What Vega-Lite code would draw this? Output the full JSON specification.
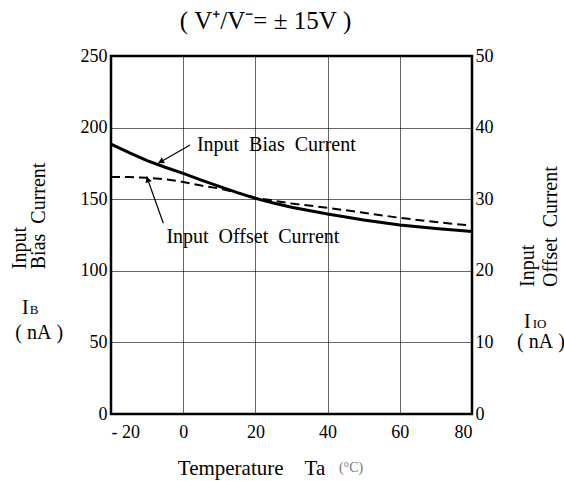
{
  "$schema": "https://vega.github.io/schema/vega-lite/v6.json",
  "width": 361,
  "height": 358,
  "autosize": {"type": "none"},
  "padding": {"left": 111, "top": 56, "right": 92, "bottom": 67},
  "background": "white",
  "title": {
    "text": "(\u00a0V⁺/V⁻= ±\u00a015V\u00a0)",
    "font": "Liberation Serif",
    "fontSize": 25,
    "fontWeight": "normal",
    "color": "black",
    "frame": "group",
    "anchor": "middle",
    "dx": -26,
    "dy": 32,
    "baseline": "alphabetic",
    "offset": 25
  },
  "config": {
    "view": {"stroke": "black", "strokeWidth": 2.5},
    "axis": {
      "labelFont": "Liberation Serif",
      "labelFontSize": 18,
      "labelColor": "black",
      "titleFont": "Liberation Serif",
      "titleFontSize": 21,
      "titleFontWeight": "normal",
      "titleColor": "black",
      "domain": false,
      "ticks": false,
      "tickSize": 0,
      "gridColor": "black",
      "gridOpacity": 0.6,
      "gridWidth": 1
    },
    "text": {"font": "Liberation Serif", "color": "black"}
  },
  "datasets": {
    "bias": [
      {"t": -20, "v": 188.5}, {"t": -15, "v": 182.5}, {"t": -10, "v": 177},
      {"t": -5, "v": 172.3}, {"t": 0, "v": 168}, {"t": 5, "v": 163.3},
      {"t": 10, "v": 159}, {"t": 15, "v": 154.6}, {"t": 20, "v": 150.6},
      {"t": 25, "v": 147.3}, {"t": 30, "v": 144.4}, {"t": 40, "v": 139.6},
      {"t": 50, "v": 135.5}, {"t": 60, "v": 132}, {"t": 70, "v": 129.5},
      {"t": 80, "v": 127.5}
    ],
    "offset": [
      {"t": -20, "iio": 33.1}, {"t": -15, "iio": 33.1}, {"t": -10, "iio": 33.0},
      {"t": -5, "iio": 32.8}, {"t": 0, "iio": 32.4}, {"t": 5, "iio": 31.9},
      {"t": 10, "iio": 31.5}, {"t": 15, "iio": 30.9}, {"t": 20, "iio": 30.2},
      {"t": 25, "iio": 29.8}, {"t": 30, "iio": 29.4}, {"t": 40, "iio": 28.8},
      {"t": 50, "iio": 28.1}, {"t": 60, "iio": 27.4}, {"t": 70, "iio": 26.8},
      {"t": 80, "iio": 26.3}
    ],
    "arrows": [
      {"t": 1.9, "v": 187.8, "t2": -6.9, "v2": 175.1},
      {"t": -5.5, "v": 133.2, "t2": -10.1, "v2": 165.7}
    ],
    "labels": [
      {"label": "Input\u00a0\u00a0Bias\u00a0\u00a0Current", "t": 25.8, "v": 187.8},
      {"label": "Input\u00a0\u00a0Offset\u00a0\u00a0Current", "t": 19.3, "v": 123.8},
      {"label": "I", "t": -43.7, "v": 74},
      {"label": "(\u00a0nA\u00a0)", "t": -39.9, "v": 56.6},
      {"label": "I", "t": 95.3, "v": 64.2},
      {"label": "(\u00a0nA\u00a0)", "t": 99.1, "v": 50.3}
    ],
    "vlabels": [
      {"label": "Input", "t": -45.2, "v": 101.1},
      {"label": "Bias\u00a0\u00a0Current", "t": -39.9, "v": 101.1},
      {"label": "Input", "t": 95.5, "v": 88.7},
      {"label": "Offset\u00a0\u00a0Current", "t": 101.9, "v": 88.7}
    ],
    "subs": [
      {"label": "B", "t": -41.3, "v": 72.8},
      {"label": "IO", "t": 98.7, "v": 63}
    ],
    "unit": [
      {"label": "(°C)", "t": 46.5, "v": -37.7}
    ]
  },
  "encoding": {
    "x": {
      "field": "t", "type": "quantitative",
      "scale": {"domain": [-20, 80], "nice": false, "zero": false},
      "axis": {
        "values": [-20, 0, 20, 40, 60, 80],
        "grid": true,
        "labelPadding": 9,
        "labelExpr": "datum.value < 0 ? '-\u00a0' + abs(datum.value) : datum.label",
        "title": "Temperature\u00a0\u00a0\u00a0\u00a0Ta",
        "titleX": 140,
        "titleY": 54,
        "titleBaseline": "middle",
        "titleAlign": "center"
      }
    }
  },
  "layer": [
    {
      "encoding": {
        "y": {
          "field": "v", "type": "quantitative",
          "scale": {"domain": [0, 250], "nice": false},
          "axis": {
            "values": [0, 50, 100, 150, 200, 250],
            "grid": true,
            "labelPadding": 4,
            "title": null,
            "orient": "left"
          }
        }
      },
      "layer": [
        {
          "data": {"name": "bias"},
          "mark": {"type": "line", "color": "black", "strokeWidth": 3}
        },
        {
          "data": {"name": "arrows"},
          "mark": {"type": "rule", "color": "black", "strokeWidth": 1.2},
          "encoding": {
            "x2": {"field": "t2"},
            "y2": {"field": "v2"}
          }
        },
        {
          "data": {"values": [{"t": -6.2, "v": 176.2}]},
          "mark": {"type": "point", "shape": "triangle-up", "filled": true, "color": "black", "size": 45, "angle": 240.7, "opacity": 1}
        },
        {
          "data": {"values": [{"t": -9.85, "v": 163.8}]},
          "mark": {"type": "point", "shape": "triangle-up", "filled": true, "color": "black", "size": 45, "angle": 340.4, "opacity": 1}
        },
        {
          "data": {"name": "labels"},
          "mark": {"type": "text", "fontSize": 20, "align": "center", "baseline": "middle"},
          "encoding": {"text": {"field": "label"}}
        },
        {
          "data": {"name": "vlabels"},
          "mark": {"type": "text", "fontSize": 20, "align": "left", "baseline": "middle", "angle": 270},
          "encoding": {"text": {"field": "label"}}
        },
        {
          "data": {"name": "subs"},
          "mark": {"type": "text", "fontSize": 13, "align": "center", "baseline": "middle"},
          "encoding": {"text": {"field": "label"}}
        },
        {
          "data": {"name": "unit"},
          "mark": {"type": "text", "fontSize": 14, "align": "center", "baseline": "middle", "color": "#777777"},
          "encoding": {"text": {"field": "label"}}
        }
      ]
    },
    {
      "data": {"name": "offset"},
      "mark": {"type": "line", "color": "black", "strokeWidth": 2, "strokeDash": [9, 5]},
      "encoding": {
        "y": {
          "field": "iio", "type": "quantitative",
          "scale": {"domain": [0, 50], "nice": false},
          "axis": {
            "orient": "right",
            "values": [0, 10, 20, 30, 40, 50],
            "grid": false,
            "labelPadding": 3,
            "title": null
          }
        }
      }
    }
  ],
  "resolve": {"scale": {"y": "independent"}}
}
